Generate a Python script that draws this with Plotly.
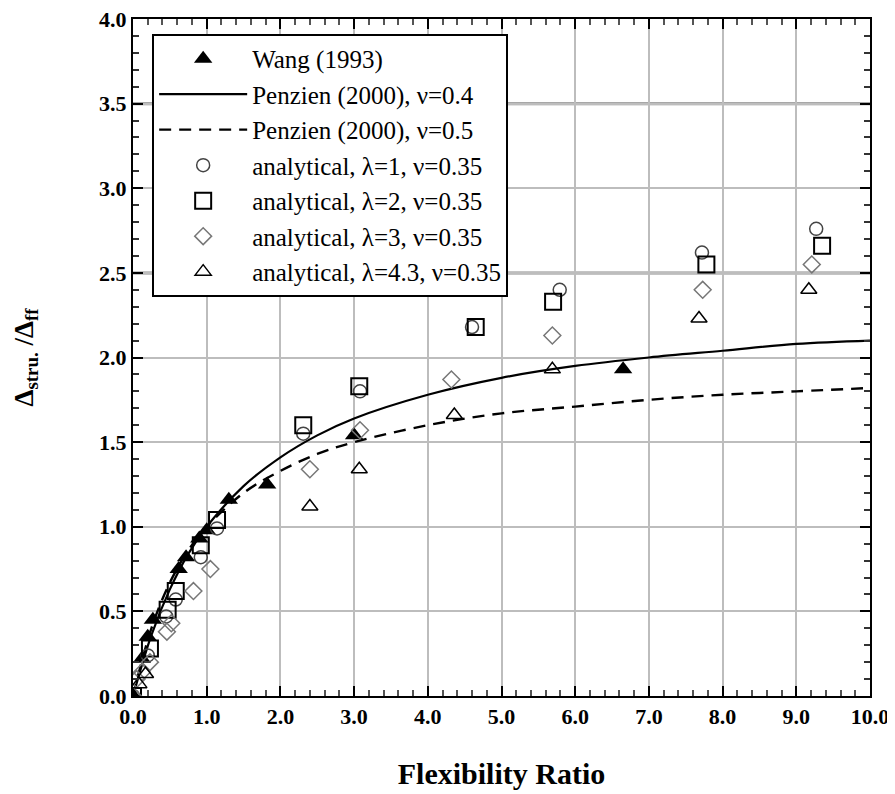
import plotly.graph_objects as go

# ---- data ----
wang_x = [0.0, 0.12, 0.2, 0.27, 0.62, 0.72, 0.9, 1.0, 1.3, 1.82, 3.0, 6.65]
wang_y = [0.0, 0.22, 0.35, 0.45, 0.75, 0.82, 0.93, 0.98, 1.16, 1.25, 1.54, 1.93]

pen_x = [0.0, 0.25, 0.5, 0.75, 1.0, 1.5, 2.0, 2.5, 3.0, 4.0, 5.0, 6.0, 7.0, 8.0, 9.0, 10.0]
pen04_y = [0.0, 0.36, 0.63, 0.84, 1.0, 1.24, 1.41, 1.54, 1.64, 1.78, 1.88, 1.95, 2.0, 2.04, 2.08, 2.1]
pen05_y = [0.0, 0.4, 0.67, 0.86, 1.0, 1.2, 1.33, 1.43, 1.5, 1.6, 1.67, 1.71, 1.75, 1.78, 1.8, 1.82]

l1_x = [0.0, 0.2, 0.45, 0.58, 0.92, 1.14, 2.31, 3.08, 4.6, 5.79, 7.72, 9.27]
l1_y = [0.0, 0.24, 0.47, 0.57, 0.82, 0.99, 1.55, 1.8, 2.18, 2.4, 2.62, 2.76]

l2_x = [0.0, 0.23, 0.47, 0.58, 0.92, 1.14, 2.31, 3.07, 4.65, 5.7, 7.78, 9.35]
l2_y = [0.0, 0.28, 0.51, 0.62, 0.89, 1.04, 1.6, 1.83, 2.18, 2.33, 2.55, 2.66]

l3_x = [0.0, 0.05, 0.12, 0.23, 0.46, 0.52, 0.82, 1.05, 2.4, 3.08, 4.32, 5.69, 7.73, 9.21]
l3_y = [0.0, 0.1, 0.14, 0.2, 0.38, 0.43, 0.62, 0.75, 1.34, 1.57, 1.87, 2.13, 2.4, 2.55]

l43_x = [0.0, 0.08, 0.17, 2.4, 3.07, 4.36, 5.69, 7.68, 9.17]
l43_y = [0.0, 0.07, 0.13, 1.12, 1.34, 1.66, 1.93, 2.23, 2.4]

x_ticks = [0, 1, 2, 3, 4, 5, 6, 7, 8, 9, 10]
x_ticklabels = ["0.0", "1.0", "2.0", "3.0", "4.0", "5.0", "6.0", "7.0", "8.0", "9.0", "10.0"]
y_ticks = [0, 0.5, 1.0, 1.5, 2.0, 2.5, 3.0, 3.5, 4.0]
y_ticklabels = ["0.0", "0.5", "1.0", "1.5", "2.0", "2.5", "3.0", "3.5", "4.0"]

SERIF = "Liberation Serif, Times New Roman, serif"

fig = go.Figure()

fig.add_trace(go.Scatter(x=wang_x, y=wang_y, mode="markers", name="Wang (1993)",
                         legendgroup="a",
                         marker=dict(symbol="triangle-up", size=16, color="black")))
fig.add_trace(go.Scatter(x=pen_x, y=pen04_y, mode="lines", name="Penzien (2000), ν=0.4",
                         legendgroup="b",
                         line=dict(color="black", width=2.2, shape="spline")))
fig.add_trace(go.Scatter(x=pen_x, y=pen05_y, mode="lines", name="Penzien (2000), ν=0.5",
                         legendgroup="c",
                         line=dict(color="black", width=2.4, dash="12px,8px", shape="spline")))
fig.add_trace(go.Scatter(x=l1_x, y=l1_y, mode="markers", name="analytical, λ=1, ν=0.35",
                         legendgroup="d",
                         marker=dict(symbol="circle-open", size=13, color="#444",
                                     line=dict(width=1.5, color="#444"))))
fig.add_trace(go.Scatter(x=l2_x, y=l2_y, mode="markers", name="analytical, λ=2, ν=0.35",
                         legendgroup="e",
                         marker=dict(symbol="square-open", size=16, color="black",
                                     line=dict(width=2, color="black"))))
fig.add_trace(go.Scatter(x=l3_x, y=l3_y, mode="markers", name="analytical, λ=3, ν=0.35",
                         legendgroup="f",
                         marker=dict(symbol="diamond-open", size=13, color="#777",
                                     line=dict(width=1.5, color="#777"))))
fig.add_trace(go.Scatter(x=l43_x, y=l43_y, mode="markers", name="analytical, λ=4.3, ν=0.35",
                         legendgroup="g",
                         marker=dict(symbol="triangle-up-open", size=14, color="black",
                                     line=dict(width=1.5, color="black"))))

for yv in [2.5, 3.5]:
    fig.add_shape(type="line", xref="paper", x0=0, x1=1, yref="y", y0=yv, y1=yv,
                  line=dict(color="#8a8a8a", width=3), layer="below")

axis_common = dict(
    showline=True, linecolor="black", linewidth=2, mirror="ticks",
    ticks="inside", ticklen=10, tickwidth=1.5, tickcolor="black",
    showgrid=True, gridcolor="#bdbdbd", gridwidth=2, zeroline=False,
    tickfont=dict(family=SERIF, size=22, color="black"),
    automargin=False, ticklabeloverflow="allow",
)

fig.update_xaxes(range=[0, 10], tickvals=x_ticks, ticktext=["<b>%s</b>" % t for t in x_ticklabels],
                 minor=dict(dtick=0.2, ticks="inside", ticklen=6, tickcolor="#555", showgrid=False),
                 title=dict(text="<b>Flexibility Ratio</b>", font=dict(family=SERIF, size=30, color="black"),
                            standoff=35),
                 **axis_common)
fig.update_yaxes(range=[0, 4], tickvals=y_ticks, ticktext=["<b>%s</b>" % t for t in y_ticklabels],
                 minor=dict(dtick=0.1, ticks="inside", ticklen=6, tickcolor="#333", showgrid=False),
                 title=dict(text="<b>Δ<sub>stru.</sub> /Δ<sub>ff</sub></b>",
                            font=dict(family=SERIF, size=27, color="black"), standoff=58),
                 **axis_common)

fig.update_layout(
    width=887, height=786,
    margin=dict(l=125, r=25, t=11, b=98),
    plot_bgcolor="white", paper_bgcolor="white",
    font=dict(family=SERIF, color="black"),
    legend=dict(x=0.026, y=0.978, xanchor="left", yanchor="top",
                bgcolor="white", bordercolor="black", borderwidth=2,
                font=dict(family=SERIF, size=25, color="black"),
                tracegroupgap=0, itemwidth=88),
    showlegend=True,
)

fig.write_html("out.html")
